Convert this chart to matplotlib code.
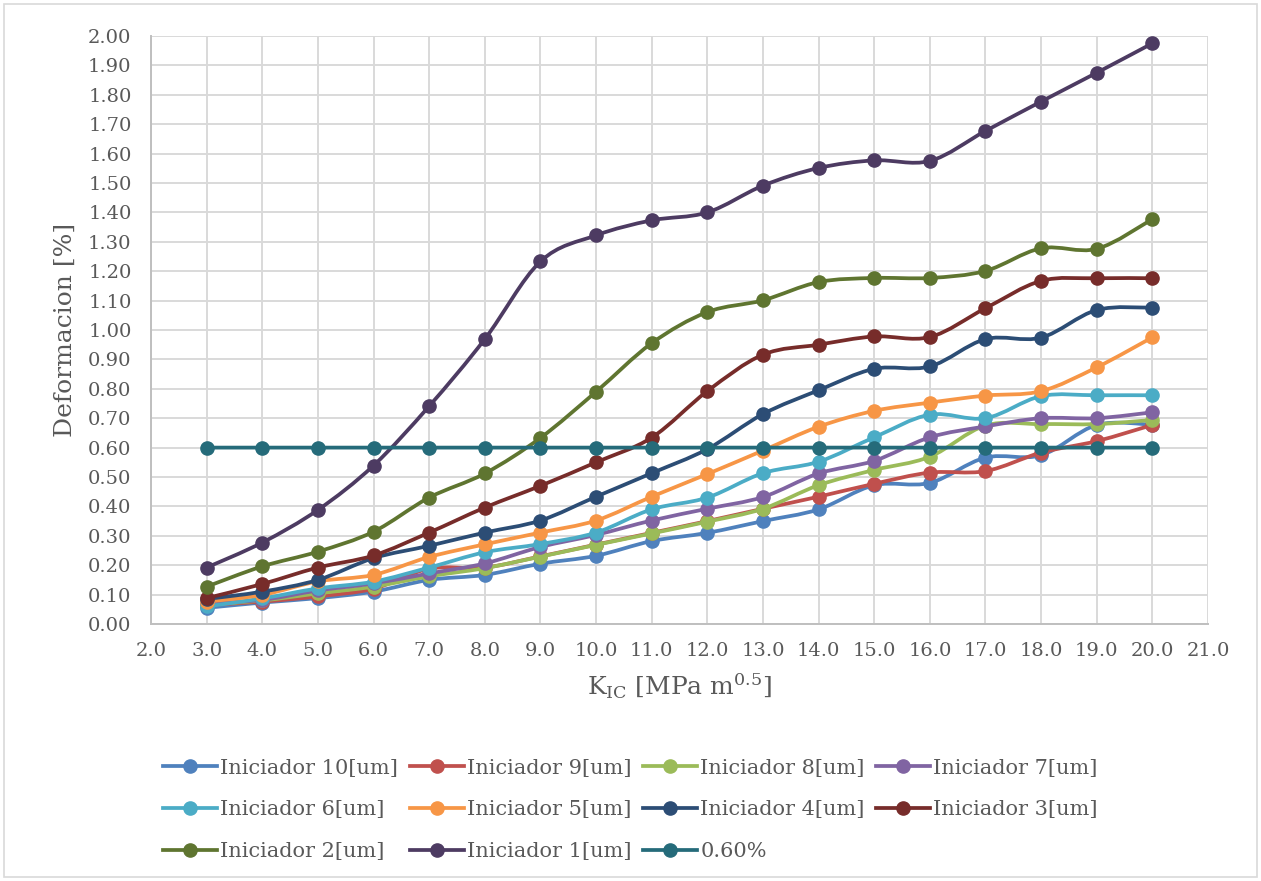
import numpy as np
import matplotlib
matplotlib.use("Agg")
import matplotlib.pyplot as plt
from matplotlib.path import Path
from matplotlib.patches import PathPatch, Rectangle
from matplotlib.lines import Line2D

plt.rcParams['font.family'] = ['DejaVu Serif']
plt.rcParams['mathtext.fontset'] = 'dejavuserif'

k_ic = [3.0, 4.0, 5.0, 6.0, 7.0, 8.0, 9.0, 10.0, 11.0, 12.0, 13.0, 14.0, 15.0, 16.0, 17.0, 18.0, 19.0, 20.0]

ini10 = [0.055, 0.073, 0.088, 0.110, 0.150, 0.167, 0.205, 0.232, 0.282, 0.310, 0.350, 0.390, 0.472, 0.480, 0.566, 0.574, 0.677, 0.678]
ini9 = [0.065, 0.076, 0.094, 0.120, 0.188, 0.192, 0.230, 0.270, 0.310, 0.350, 0.392, 0.433, 0.477, 0.515, 0.520, 0.583, 0.622, 0.677]
ini8 = [0.066, 0.080, 0.104, 0.127, 0.162, 0.190, 0.229, 0.269, 0.308, 0.348, 0.392, 0.472, 0.524, 0.569, 0.675, 0.680, 0.680, 0.694]
ini7 = [0.070, 0.082, 0.114, 0.138, 0.172, 0.206, 0.262, 0.303, 0.352, 0.392, 0.432, 0.512, 0.555, 0.635, 0.672, 0.700, 0.700, 0.720]
ini6 = [0.060, 0.087, 0.121, 0.144, 0.192, 0.244, 0.272, 0.311, 0.390, 0.430, 0.513, 0.552, 0.635, 0.712, 0.700, 0.775, 0.778, 0.778]
ini5 = [0.076, 0.099, 0.145, 0.167, 0.228, 0.271, 0.311, 0.352, 0.433, 0.510, 0.590, 0.671, 0.725, 0.753, 0.777, 0.792, 0.873, 0.975]
ini4 = [0.085, 0.110, 0.150, 0.224, 0.266, 0.311, 0.352, 0.433, 0.513, 0.595, 0.714, 0.795, 0.868, 0.876, 0.969, 0.974, 1.068, 1.076]
ini3 = [0.088, 0.136, 0.192, 0.233, 0.311, 0.396, 0.470, 0.550, 0.634, 0.792, 0.916, 0.950, 0.978, 0.976, 1.074, 1.167, 1.176, 1.176]
ini2 = [0.127, 0.196, 0.246, 0.314, 0.430, 0.512, 0.633, 0.790, 0.955, 1.061, 1.101, 1.163, 1.177, 1.177, 1.201, 1.278, 1.276, 1.377]
ini1 = [0.192, 0.277, 0.388, 0.539, 0.741, 0.969, 1.233, 1.322, 1.373, 1.400, 1.491, 1.551, 1.577, 1.575, 1.677, 1.777, 1.875, 1.975]
ref_060 = [0.60, 0.60, 0.60, 0.60, 0.60, 0.60, 0.60, 0.60, 0.60, 0.60, 0.60, 0.60, 0.60, 0.60, 0.60, 0.60, 0.60, 0.60]

series = [ini10, ini9, ini8, ini7, ini6, ini5, ini4, ini3, ini2, ini1, ref_060]
names = ["Iniciador 10[um]", "Iniciador 9[um]", "Iniciador 8[um]", "Iniciador 7[um]",
         "Iniciador 6[um]", "Iniciador 5[um]", "Iniciador 4[um]", "Iniciador 3[um]",
         "Iniciador 2[um]", "Iniciador 1[um]", "0.60%"]
colors = ["#4F81BD", "#C0504D", "#9BBB59", "#8064A2", "#4BACC6", "#F79646",
          "#2C4D75", "#772C2A", "#5F7530", "#4D3B62", "#256B7A"]

W, H = 1261, 881
fig = plt.figure(figsize=(W / 100, H / 100), dpi=100)
ax = fig.add_axes([151 / W, 1 - 624 / H, (1208 - 151) / W, (624 - 36) / H])

text_col = "#595959"
grid_col = "#D9D9D9"


def smooth_path(x, y):
    x = np.asarray(x, float)
    y = np.asarray(y, float)
    P = np.column_stack([x, y])
    n = len(P)
    verts = [P[0]]
    codes = [Path.MOVETO]
    for i in range(n - 1):
        p0 = P[i - 1] if i > 0 else P[i]
        p1 = P[i]
        p2 = P[i + 1]
        p3 = P[i + 2] if i + 2 < n else P[i + 1]
        c1 = p1 + (p2 - p0) / 6.0
        c2 = p2 - (p3 - p1) / 6.0
        verts += [c1, c2, p2]
        codes += [Path.CURVE4, Path.CURVE4, Path.CURVE4]
    return Path(verts, codes)


lw = 2.7
ms = 9.5
handles = []
for i, (vals, name, col) in enumerate(zip(series, names, colors)):
    patch = PathPatch(smooth_path(k_ic, vals), fill=False, edgecolor=col, lw=lw,
                      capstyle='round', joinstyle='round', zorder=3 + 2 * i)
    ax.add_patch(patch)
    ax.plot(k_ic, vals, linestyle='none', marker='o', markersize=ms,
            markerfacecolor=col, markeredgecolor=col, zorder=4 + 2 * i)
    handles.append(Line2D([], [], color=col, lw=lw, marker='o', markersize=ms,
                          markerfacecolor=col, markeredgecolor=col, label=name))

ax.set_xlim(2.0, 21.0)
ax.set_ylim(0.0, 2.0)
ax.set_xticks(np.arange(2, 22, 1))
ax.set_yticks(np.arange(0, 2.001, 0.1))
ax.set_xticklabels([f"{v:.1f}" for v in np.arange(2, 22, 1)])
ax.set_yticklabels([f"{v:.2f}" for v in np.arange(0, 2.001, 0.1)])
ax.tick_params(axis='both', length=0, labelsize=14, colors=text_col)
ax.tick_params(axis='y', pad=14)
ax.tick_params(axis='x', pad=13)
ax.grid(True, color=grid_col, lw=1.4, zorder=0)
ax.set_axisbelow(True)
for s in ['top', 'right']:
    ax.spines[s].set_visible(False)
for s in ['left', 'bottom']:
    ax.spines[s].set_color("#BFBFBF")
    ax.spines[s].set_linewidth(1.4)

ax.set_ylabel("Deformacion [%]", fontsize=18, color=text_col, labelpad=8)
ax.set_xlabel(r"K$_{\mathregular{IC}}$ [MPa m$^{\mathregular{0.5}}$]", fontsize=18,
              color=text_col, labelpad=8)

order = [0, 4, 8, 1, 5, 9, 2, 6, 10, 3, 7]
leg = fig.legend([handles[j] for j in order], [names[j] for j in order],
                 loc='center', bbox_to_anchor=(0.5, 1 - 810 / H), ncol=4,
                 frameon=False, fontsize=15, labelcolor=text_col,
                 handlelength=2.6, handletextpad=0.15, columnspacing=0.55,
                 labelspacing=1.1)

fig.add_artist(Rectangle((4 / W, 4 / H), 1 - 8 / W, 1 - 8 / H, transform=fig.transFigure,
                         fill=False, edgecolor="#D9D9D9", lw=1.2))

fig.savefig("out.png", dpi=100)
